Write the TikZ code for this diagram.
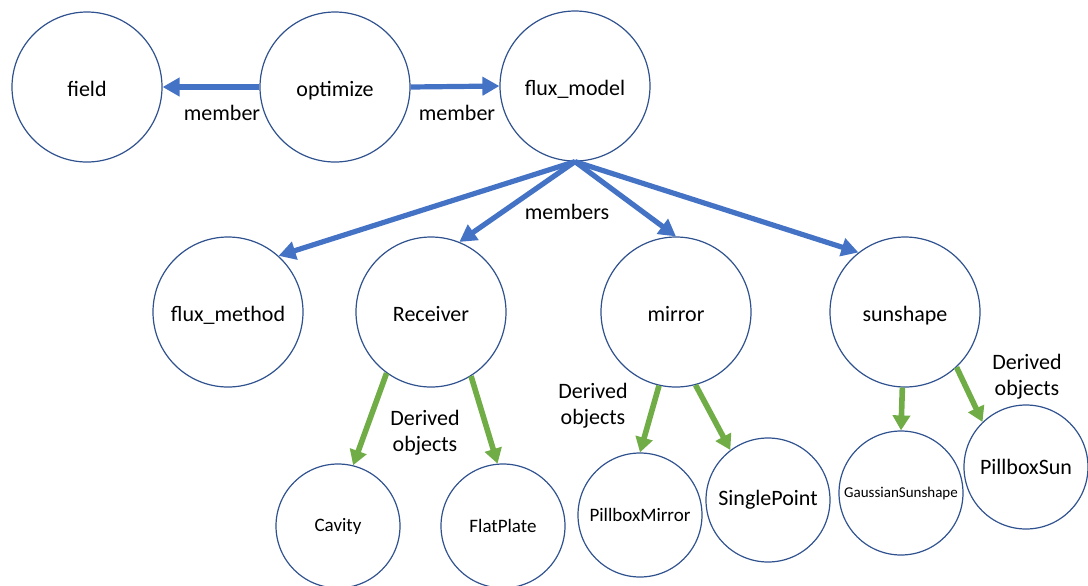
\documentclass[tikz,border=0pt]{standalone}
\usepackage{fontspec}
\setmainfont{Carlito}
\usetikzlibrary{arrows.meta}
\definecolor{ringblue}{HTML}{2F528F}
\definecolor{linkblue}{HTML}{4472C4}
\definecolor{derivgreen}{HTML}{70AD47}

\begin{document}
\begin{tikzpicture}[x=0.5pt,y=-0.5pt,
	cls/.style={circle,draw=ringblue,line width=0.6pt,inner sep=0pt,minimum size=75pt,font=\fontsize{11}{13}\selectfont,text height=1.9ex,text depth=0pt},
	subcls/.style={circle,draw=ringblue,line width=0.6pt,inner sep=0pt,minimum size=62pt,font=\fontsize{9.5}{11}\selectfont},
	memberarrow/.style={-{Triangle[length=8.5pt,width=9pt]},line width=2.6pt,linkblue},
	derivedarrow/.style={-{Triangle[length=7.5pt,width=8.5pt]},line width=2.8pt,derivgreen},
	lbl/.style={font=\fontsize{11}{13}\selectfont,align=center}]
	\useasboundingbox (0,0) rectangle (1088,585);

	% top row
	\node[cls] (field) at (87,87) {field};
	\node[cls] (optimize) at (335,87) {optimize};
	\node[cls] (fluxmodel) at (575,86) {flux\_model};

	\draw[memberarrow] (optimize.west) -- (field.east);
	\draw[memberarrow] (optimize.east) -- (fluxmodel.west);
	\node[lbl] (mlabel1) at (222,113) {member};
	\node[lbl] (mlabel2) at (457,113) {member};

	% members of flux_model
	\node[cls] (fluxmethod) at (228,312) {flux\_method};
	\node[cls] (receiver) at (431,312) {Receiver};
	\node[cls] (mirror) at (676,312) {mirror};
	\node[cls] (sunshape) at (905,312) {sunshape};

	\draw[memberarrow] (fluxmodel.south) -- (fluxmethod.48);
	\draw[memberarrow] (fluxmodel.south) -- (receiver.68);
	\draw[memberarrow] (fluxmodel.south) -- (mirror.north);
	\draw[memberarrow] (fluxmodel.south) -- (sunshape.128);
	\node[lbl] (mslabel) at (567,212) {members};

	% derived objects
	\node[subcls] (cavity) at (338,526) {Cavity};
	\node[subcls] (flatplate) at (503,526) {FlatPlate};
	\node[subcls] (pillboxmirror) at (640,515) {PillboxMirror};
	\node[subcls,font=\fontsize{11}{13}\selectfont] (singlepoint) at (768,500) {SinglePoint};
	\node[subcls,font=\fontsize{7.5}{9}\selectfont] (gaussian) at (901,493) {GaussianSunshape};
	\node[subcls,font=\fontsize{11}{13}\selectfont] (pillboxsun) at (1026,467) {PillboxSun};

	\draw[derivedarrow] (receiver.234) -- (cavity.76);
	\draw[derivedarrow] (receiver.302) -- (flatplate.95);
	\draw[derivedarrow] (mirror.257) -- (pillboxmirror.90);
	\draw[derivedarrow] (mirror.285) -- (singlepoint.127);
	\draw[derivedarrow] (sunshape.268) -- (gaussian.90);
	\draw[derivedarrow] (sunshape.313) -- (pillboxsun.134);

	\node[lbl] (dlabel1) at (425,433) {Derived\\objects};
	\node[lbl] (dlabel2) at (593,406) {Derived\\objects};
	\node[lbl] (dlabel3) at (1027,377) {Derived\\objects};
\end{tikzpicture}
\end{document}
